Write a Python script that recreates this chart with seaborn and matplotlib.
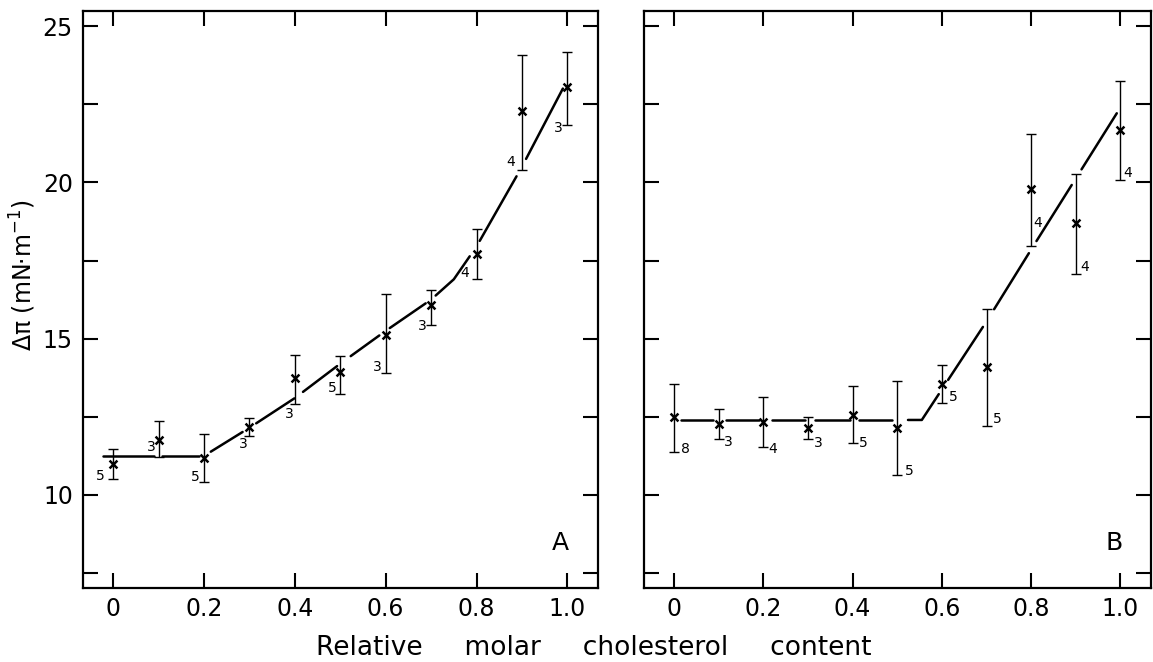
import numpy as np
import pandas as pd
import seaborn as sns
import matplotlib.pyplot as plt

# panel A: measured points (x, value, error bar top / bottom, n)
xA = [0.0, 0.1, 0.2, 0.3, 0.4, 0.5, 0.6, 0.7, 0.8, 0.9, 1.0]
yA = [10.99, 11.76, 11.19, 12.17, 13.73, 13.93, 15.12, 16.07, 17.72, 22.29, 23.05]
topA = [11.46, 12.37, 11.95, 12.47, 14.47, 14.44, 16.43, 16.57, 18.5, 24.07, 24.16]
botA = [10.5, 11.22, 10.41, 11.9, 12.91, 13.22, 13.89, 15.45, 16.91, 20.39, 21.82]
nA = ['5', '3', '5', '3', '3', '5', '3', '3', '4', '4', '3']
nA_x = [-0.028, -0.017, -0.019, -0.014, -0.012, -0.018, -0.019, -0.019, -0.025, -0.025, -0.019]
nA_y = [10.61, 11.52, 10.58, 11.63, 12.6, 13.41, 14.1, 15.42, 17.11, 20.65, 21.75]

# panel A: fitted curve and the visible pieces of it
fitA_x = [-0.023, 0.2, 0.3, 0.4, 0.5, 0.6, 0.7, 0.75, 0.8, 0.9, 0.99]
fitA_y = [11.25, 11.25, 12.15, 13.1, 14.2, 15.25, 16.25, 16.9, 17.95, 20.5, 23.0]
segA_start = [-0.023, 0.108, 0.215, 0.315, 0.418, 0.523, 0.609, 0.71, 0.807, 0.909]
segA_end = [0.09, 0.19, 0.285, 0.399, 0.493, 0.586, 0.688, 0.785, 0.888, 0.99]

# panel B
xB = [0.0, 0.1, 0.2, 0.3, 0.4, 0.5, 0.6, 0.7, 0.8, 0.9, 1.0]
yB = [12.51, 12.26, 12.34, 12.14, 12.57, 12.14, 13.56, 14.09, 19.78, 18.7, 21.69]
topB = [13.56, 12.74, 13.12, 12.51, 13.5, 13.66, 14.17, 15.96, 21.54, 20.27, 23.24]
botB = [11.38, 11.79, 11.52, 11.79, 11.67, 10.64, 12.94, 12.21, 17.97, 17.07, 20.09]
nB = ['8', '3', '4', '3', '5', '5', '5', '5', '4', '4', '4']
nB_x = [0.026, 0.021, 0.021, 0.022, 0.024, 0.026, 0.026, 0.024, 0.015, 0.021, 0.017]
nB_y = [11.46, 11.69, 11.46, 11.67, 11.67, 10.77, 13.12, 12.44, 18.7, 17.29, 20.3]

fitB_x = [0.016, 0.555, 0.7, 0.8, 0.992]
fitB_y = [12.4, 12.4, 15.55, 17.85, 22.21]
segB_start = [0.016, 0.117, 0.219, 0.315, 0.415, 0.524, 0.614, 0.717, 0.812, 0.913]
segB_end = [0.086, 0.19, 0.293, 0.393, 0.488, 0.593, 0.692, 0.795, 0.891, 0.992]

xticks = [0, 0.2, 0.4, 0.6, 0.8, 1.0]
xticklabels = ['0', '0.2', '0.4', '0.6', '0.8', '1.0']
yticks = [7.5, 10, 12.5, 15, 17.5, 20, 22.5, 25]
yticklabels = ['', '10', '', '15', '', '20', '', '25']

sns.set_style('ticks')
plt.rcParams['font.family'] = ['DejaVu Sans']
plt.rcParams['text.color'] = 'black'
plt.rcParams['axes.labelcolor'] = 'black'


def fit_pieces(fx, fy, starts, ends):
    rows = []
    for k, (s, e) in enumerate(zip(starts, ends)):
        xs = [s] + [v for v in fx if s < v < e] + [e]
        for v in xs:
            rows.append({'x': v, 'y': np.interp(v, fx, fy), 'seg': k})
    return pd.DataFrame(rows)


def draw_panel(ax, x, y, top, bot, n, n_x, n_y, fx, fy, s0, s1, letter, labels):
    df = pd.DataFrame({'x': x, 'y': y})
    yerr = [np.array(y) - np.array(bot), np.array(top) - np.array(y)]
    ax.errorbar(x, y, yerr=yerr, fmt='none', ecolor='black', elinewidth=1.0,
                capsize=3.5, capthick=1.0)
    pieces = fit_pieces(fx, fy, s0, s1)
    sns.lineplot(data=pieces, x='x', y='y', units='seg', estimator=None,
                 color='black', linewidth=1.8, ax=ax, legend=False)
    sns.scatterplot(data=df, x='x', y='y', marker='x', s=32, color='black',
                    linewidth=1.8, ax=ax, legend=False, zorder=5)
    for xi, t, dx, ly in zip(x, n, n_x, n_y):
        ax.text(xi + dx, ly, t, fontsize=10, ha='center', va='center', color='black')
    ax.text(0.985, 8.45, letter, fontsize=18, ha='center', va='center', color='black')

    ax.set_xlim(-0.067, 1.068)
    ax.set_ylim(7.04, 25.48)
    ax.set_xticks(xticks)
    ax.set_xticklabels(xticklabels)
    ax.set_yticks(yticks)
    ax.set_yticklabels(yticklabels if labels else [''] * len(yticks))
    ax.tick_params(direction='in', length=11, width=1.5, top=True, right=True,
                   labelsize=17, pad=7, colors='black')
    for sp in ax.spines.values():
        sp.set_linewidth(1.6)
        sp.set_color('black')
    ax.set_xlabel('')
    ax.set_ylabel('')


fig = plt.figure(figsize=(11.53, 6.62), dpi=100)
axA = fig.add_axes([0.0717, 0.1125, 0.4472, 0.8708])
axB = fig.add_axes([0.5588, 0.1125, 0.4392, 0.8708])

draw_panel(axA, xA, yA, topA, botA, nA, nA_x, nA_y, fitA_x, fitA_y,
           segA_start, segA_end, 'A', True)
draw_panel(axB, xB, yB, topB, botB, nB, nB_x, nB_y, fitB_x, fitB_y,
           segB_start, segB_end, 'B', False)

fig.text(0.02, 1 - 275 / 662, 'Δπ (mN·m$^{-1}$)', rotation=90, fontsize=17,
         ha='center', va='center', color='black')
fig.text(594 / 1153, 1 - 648 / 662, 'Relative     molar     cholesterol     content',
         fontsize=19, ha='center', va='center', color='black')

fig.savefig('out.png', dpi=100)
